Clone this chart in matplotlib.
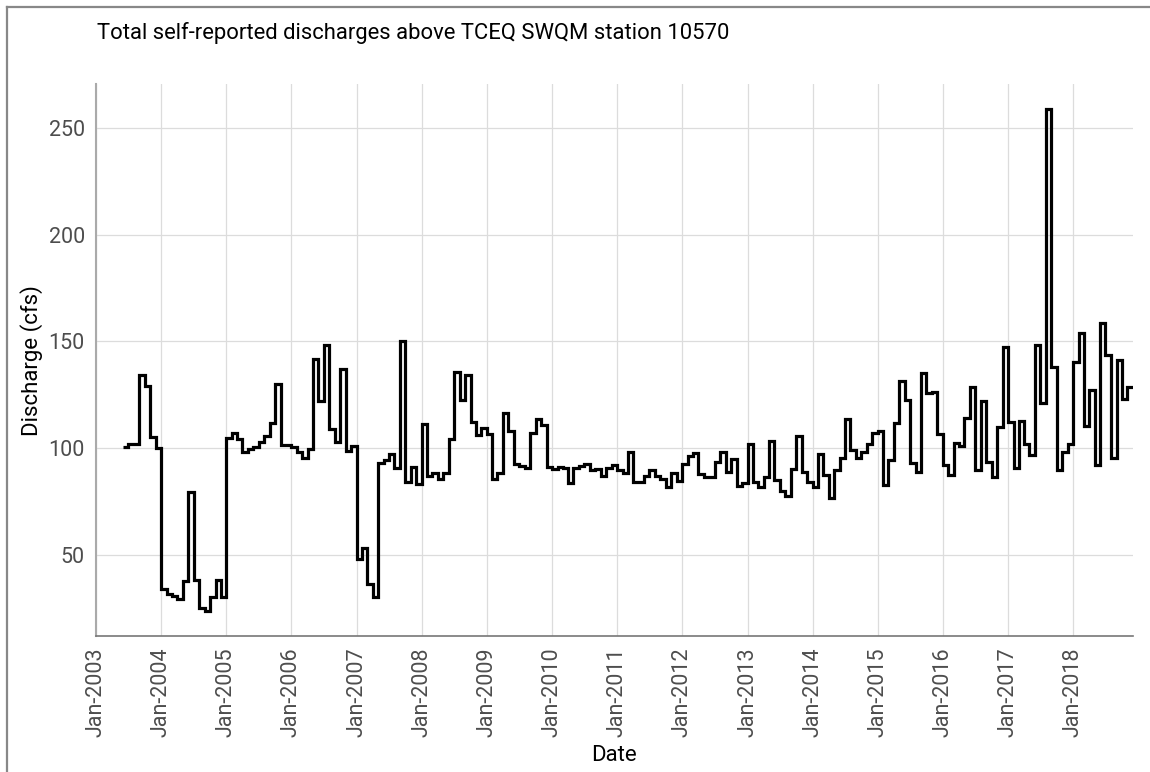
import matplotlib

matplotlib.use("Agg")
import matplotlib.pyplot as plt
import matplotlib.dates as mdates
from matplotlib.lines import Line2D
import pandas as pd

plt.rcParams["font.family"] = ["Roboto", "DejaVu Sans"]

# monthly totals, Jun 2003 .. Nov 2018 (cfs)
first_month = "2003-06-01"
discharge = [
    # 2003 Jun-Dec
    100.5, 102, 102, 134, 129, 105, 100,
    # 2004
    34, 31.5, 30.5, 29, 37.5, 79.5, 38, 25, 23.5, 30, 38, 30,
    # 2005
    104.5, 107, 104, 98, 99.5, 100.5, 103, 105.7, 111.6, 130, 101.3, 101.3,
    # 2006
    100.3, 98, 95.4, 99.7, 141.8, 122, 148.3, 109, 102.6, 137.2, 98.5, 100.8,
    # 2007
    47.8, 53.3, 36.2, 29.9, 92.9, 94.3, 97.4, 90.7, 150.3, 84, 91, 83.3,
    # 2008
    111.3, 87, 88.4, 85.3, 88.1, 104.4, 135.6, 122.5, 134.2, 112.1, 106.2, 109.3,
    # 2009
    106.4, 85.5, 88.1, 116.3, 107.8, 92.4, 91.6, 90.4, 107.1, 113.6, 110.9, 90.9,
    # 2010
    90.1, 91.2, 90.4, 83.5, 90.4, 91.6, 92.7, 89.6, 90.1, 86.9, 90.4, 92,
    # 2011
    89.6, 88.1, 98.1, 84.2, 84.2, 86.9, 89.6, 86.9, 85.5, 81.6, 88.1, 84.5,
    # 2012
    92.7, 96.3, 97.8, 87.8, 86.5, 86.5, 93.2, 98.1, 88.6, 94.6, 82.2, 83.4,
    # 2013
    102, 84.2, 81.9, 86.2, 103.1, 85, 80, 77.6, 90.1, 105.6, 88.9, 84.2,
    # 2014
    81.9, 97.4, 87.3, 76.5, 89.6, 95.5, 113.6, 99.2, 95.4, 98.2, 102, 107,
    # 2015
    107.9, 82.7, 94.3, 111.6, 131.4, 122.6, 92.8, 88.6, 135.3, 125.7, 126.3, 106.4,
    # 2016
    92, 87.3, 102.3, 101, 114.1, 128.8, 89.6, 122.2, 93.2, 86.2, 109.9, 147.4,
    # 2017
    112.2, 90.6, 112.7, 101.7, 96.9, 148.2, 121.3, 258.9, 138, 89.5, 98.1, 102,
    # 2018 Jan-Nov
    140.4, 153.7, 110.2, 127.4, 91.9, 158.4, 143.8, 95.5, 141.2, 123.2, 128.7,
]
year_ticks = list(range(2003, 2019))
y_ticks = [50, 100, 150, 200, 250]

title = "Total self-reported discharges above TCEQ SWQM station 10570"

edges = pd.date_range(first_month, periods=len(discharge) + 1, freq="MS")
edge_num = mdates.date2num(edges)

fig = plt.figure(figsize=(11.5, 7.72), dpi=100)
ax = fig.add_axes([0.0835, 0.176, 0.9015, 0.715])

ax.stairs(discharge, edge_num, baseline=None, color="black", lw=2.3)

# axis ranges
lo, hi = min(discharge), max(discharge)
pad = (hi - lo) * 0.05
ax.set_ylim(lo - pad, hi + pad)
ax.set_xlim(mdates.date2num(pd.Timestamp(f"{year_ticks[0]}-01-01")), edge_num[-1])

ax.set_yticks(y_ticks)
ax.set_xticks(mdates.date2num([pd.Timestamp(f"{y}-01-01") for y in year_ticks]))
ax.xaxis.set_major_formatter(mdates.DateFormatter("%b-%Y"))

ax.grid(True, color="#dcdcdc", lw=0.9)
ax.set_axisbelow(True)
ax.tick_params(axis="both", length=0, labelsize=15.5, labelcolor="#4d4d4d")
ax.tick_params(axis="x", rotation=90, pad=8)
ax.tick_params(axis="y", pad=8)

for side in ["top", "right"]:
    ax.spines[side].set_visible(False)
ax.spines["left"].set_color("#aaaaaa")
ax.spines["left"].set_linewidth(1.5)
ax.spines["bottom"].set_color("#777777")
ax.spines["bottom"].set_linewidth(1.2)

ax.set_xlabel("Date", fontsize=16, labelpad=6)
ax.set_ylabel("Discharge (cfs)", fontsize=16, labelpad=4)

fig.text(0.0843, 0.949, title, fontsize=15.8, ha="left", va="baseline")

# grey frame on the top and left edges
bx, by = 7 / 1150, 1 - 7 / 772
fig.add_artist(Line2D([bx, bx], [0, by], transform=fig.transFigure, color="#888888", lw=1.6))
fig.add_artist(Line2D([bx, 1], [by, by], transform=fig.transFigure, color="#888888", lw=1.6))

fig.savefig("out.png", dpi=100, facecolor="white")
